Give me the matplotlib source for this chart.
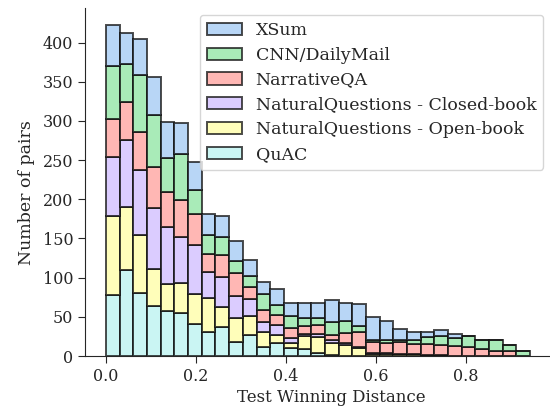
import numpy as np
import matplotlib
matplotlib.use("Agg")
import matplotlib.pyplot as plt
import seaborn as sns

# stacked histogram counts, one value per bin (bin width ~0.0304)
bin_w = 0.0304
names = ['XSum', 'CNN/DailyMail', 'NarrativeQA',
         'NaturalQuestions - Closed-book', 'NaturalQuestions - Open-book', 'QuAC']

quac = [78, 110, 81, 64, 58, 55, 41, 30, 37, 18, 27, 12, 16, 10, 9, 4, 1, 0, 0, 0, 0,
        0, 0, 0, 0, 0, 0, 0, 0, 0, 0]
nq_open = [101, 80, 74, 47, 34, 38, 38, 44, 26, 31, 24, 19, 11, 7, 16, 20, 16, 14, 10, 3, 3,
           2, 2, 1, 1, 0, 0, 0, 0, 0, 0]
nq_closed = [75, 85, 82, 78, 72, 59, 62, 33, 38, 28, 22, 12, 12, 6, 3, 4, 3, 2, 2, 1, 1,
             1, 0, 0, 0, 0, 0, 0, 0, 0, 0]
narrqa = [49, 49, 49, 52, 45, 47, 40, 23, 28, 29, 15, 16, 13, 13, 10, 12, 7, 13, 18, 14, 13,
          15, 13, 14, 13, 13, 12, 9, 7, 6, 0]
cnn = [67, 48, 73, 67, 43, 59, 31, 25, 23, 15, 14, 20, 13, 15, 10, 8, 17, 16, 8, 3, 3,
       2, 5, 9, 11, 10, 14, 11, 13, 8, 6]
xsum = [52, 40, 46, 48, 46, 39, 36, 26, 27, 26, 21, 16, 20, 17, 20, 19, 28, 23, 28, 29, 25,
        14, 10, 7, 8, 5, 0, 0, 0, 0, 0]

sns.set_style("ticks")
plt.rcParams['font.family'] = ['DejaVu Serif']
plt.rcParams['text.color'] = '#262626'
plt.rcParams['axes.labelcolor'] = '#262626'
plt.rcParams['xtick.color'] = '#262626'
plt.rcParams['ytick.color'] = '#262626'

pal = sns.color_palette("pastel")
colors = [pal[0], pal[2], pal[3], pal[4], pal[8], pal[9]]

fig = plt.figure(figsize=(5.5, 4.07), dpi=100)
ax = fig.add_axes([0.1545, 0.1253, 0.848, 0.855])

left = np.arange(len(quac)) * bin_w
series = [quac, nq_open, nq_closed, narrqa, cnn, xsum]
labels = names[::-1]
cols = colors[::-1]
bottom = np.zeros(len(quac))
handles = []
for vals, lab, c in zip(series, labels, cols):
    vals = np.array(vals, dtype=float)
    b = ax.bar(left, vals, width=bin_w, bottom=bottom, align='edge', color=c, alpha=0.75,
               edgecolor='#111111', linewidth=1.4, label=lab)
    handles.append(b)
    bottom += vals

ax.set_xlim(-0.047, 0.99)
ax.set_ylim(0, 444)
ax.set_xticks([0.0, 0.2, 0.4, 0.6, 0.8])
ax.set_yticks(range(0, 401, 50))
ax.tick_params(labelsize=11.5, length=5)
ax.set_xlabel('Test Winning Distance', fontsize=12)
ax.set_ylabel('Number of pairs', fontsize=12.5)
ax.xaxis.set_label_coords(0.528, -0.095)
ax.yaxis.set_label_coords(-0.108, 0.47)
sns.despine(ax=ax)

leg = ax.legend(handles[::-1], names, loc='upper right', bbox_to_anchor=(0.99, 0.99),
                fontsize=12.5, frameon=True, borderaxespad=0.2, handlelength=2.0,
                labelspacing=0.45)
leg.get_frame().set_edgecolor('#cccccc')

fig.savefig('out.png', dpi=100)
